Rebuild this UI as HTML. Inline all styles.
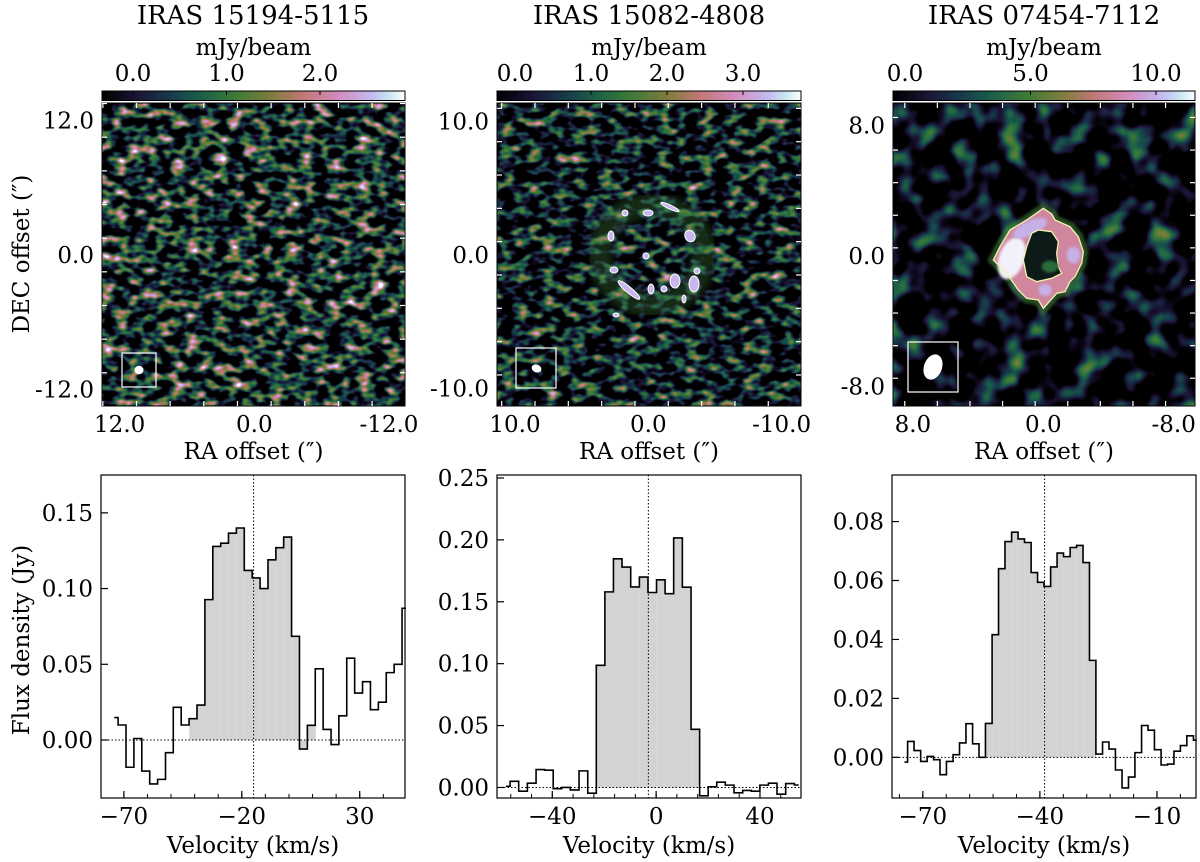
<!DOCTYPE html>
<html><head><meta charset="utf-8">
<style>
html,body{margin:0;padding:0;background:#fff;}
svg{display:block;font-family:"DejaVu Serif","Liberation Serif",serif;}
</style></head>
<body>
<svg id="fig" width="1200" height="862" viewBox="0 0 1200 862" xmlns="http://www.w3.org/2000/svg">
<defs>
<linearGradient id="cmap" x1="0" x2="1" y1="0" y2="0">
<stop offset="0" stop-color="#000000"/>
<stop offset="0.11" stop-color="#1a1334"/>
<stop offset="0.22" stop-color="#17384b"/>
<stop offset="0.33" stop-color="#1b6148"/>
<stop offset="0.44" stop-color="#3e7a37"/>
<stop offset="0.56" stop-color="#7d7d3c"/>
<stop offset="0.67" stop-color="#c37878"/>
<stop offset="0.78" stop-color="#d28cbe"/>
<stop offset="0.89" stop-color="#c3b9f0"/>
<stop offset="0.95" stop-color="#c8e8f2"/>
<stop offset="1" stop-color="#ffffff"/>
</linearGradient>
<filter id="n1" x="0" y="0" width="100%" height="100%" color-interpolation-filters="sRGB">
<feTurbulence type="fractalNoise" baseFrequency="0.07 0.11" numOctaves="2" seed="3"/>
<feColorMatrix type="matrix" values="2.3 0 0 0 -0.95  2.3 0 0 0 -0.95  2.3 0 0 0 -0.95  0 0 0 0 1"/>
<feComponentTransfer>
<feFuncR type="table" tableValues="0 .10 .09 .11 .24 .49 .76 .82 .76 1"/>
<feFuncG type="table" tableValues="0 .07 .22 .38 .48 .49 .47 .55 .73 1"/>
<feFuncB type="table" tableValues="0 .20 .29 .28 .22 .24 .47 .75 .94 1"/>
</feComponentTransfer>
</filter>
<filter id="n2" x="0" y="0" width="100%" height="100%" color-interpolation-filters="sRGB">
<feTurbulence type="fractalNoise" baseFrequency="0.07 0.11" numOctaves="2" seed="8"/>
<feColorMatrix type="matrix" values="2.0 0 0 0 -0.88  2.0 0 0 0 -0.88  2.0 0 0 0 -0.88  0 0 0 0 1"/>
<feComponentTransfer>
<feFuncR type="table" tableValues="0 .10 .09 .11 .24 .49 .76 .82 .76 1"/>
<feFuncG type="table" tableValues="0 .07 .22 .38 .48 .49 .47 .55 .73 1"/>
<feFuncB type="table" tableValues="0 .20 .29 .28 .22 .24 .47 .75 .94 1"/>
</feComponentTransfer>
</filter>
<filter id="n3" x="0" y="0" width="100%" height="100%" color-interpolation-filters="sRGB">
<feTurbulence type="fractalNoise" baseFrequency="0.04" numOctaves="2" seed="5"/>
<feColorMatrix type="matrix" values="1.5 0 0 0 -0.72  1.5 0 0 0 -0.72  1.5 0 0 0 -0.72  0 0 0 0 1"/>
<feComponentTransfer>
<feFuncR type="table" tableValues="0 .10 .09 .11 .24 .49 .76 .82 .76 1"/>
<feFuncG type="table" tableValues="0 .07 .22 .38 .48 .49 .47 .55 .73 1"/>
<feFuncB type="table" tableValues="0 .20 .29 .28 .22 .24 .47 .75 .94 1"/>
</feComponentTransfer>
</filter>
<filter id="blur4"><feGaussianBlur stdDeviation="4"/></filter>
<filter id="blur8"><feGaussianBlur stdDeviation="8"/></filter>
<clipPath id="clip3"><rect x="893" y="103" width="302" height="303"/></clipPath>
<clipPath id="clip2"><rect x="497" y="103" width="304" height="303"/></clipPath>
</defs>

<!-- Titles -->
<text x="253" y="24" font-size="26" text-anchor="middle">IRAS 15194-5115</text>
<text x="649" y="24" font-size="26" text-anchor="middle">IRAS 15082-4808</text>
<text x="1044" y="24" font-size="26" text-anchor="middle">IRAS 07454-7112</text>

<!-- Image panels -->
<g>
<rect x="102" y="103" width="303" height="303" fill="#000" filter="url(#n1)"/>
</g>
<g>
<rect x="497" y="103" width="304" height="303" fill="#000" filter="url(#n2)"/>
<g clip-path="url(#clip2)">
<ellipse cx="652" cy="255" rx="52" ry="50" fill="none" stroke="#3e7a37" stroke-width="24" opacity="0.35" filter="url(#blur4)"/>
<g fill="#c9b6ee" stroke="#fff" stroke-width="1">
<ellipse cx="611" cy="236" rx="3" ry="5"/>
<ellipse cx="625" cy="213" rx="3" ry="3"/>
<ellipse cx="648" cy="213" rx="5" ry="3"/>
<ellipse cx="670" cy="207" rx="10" ry="2" transform="rotate(25 670 207)"/>
<ellipse cx="690" cy="236" rx="5" ry="6" transform="rotate(-30 690 236)"/>
<ellipse cx="614" cy="270" rx="4" ry="3"/>
<ellipse cx="629" cy="290" rx="14" ry="3" transform="rotate(40 629 290)"/>
<ellipse cx="651" cy="289" rx="3" ry="5"/>
<ellipse cx="664" cy="289" rx="3" ry="3"/>
<ellipse cx="675" cy="281" rx="5" ry="7"/>
<ellipse cx="694" cy="284" rx="5" ry="8"/>
<ellipse cx="646" cy="256" rx="3" ry="3"/>
<ellipse cx="697" cy="271" rx="3" ry="3"/>
<ellipse cx="616" cy="315" rx="3" ry="2"/>
<ellipse cx="684" cy="299" rx="2" ry="4"/>
</g>
</g>
</g>
<g>
<rect x="893" y="103" width="302" height="303" fill="#000" filter="url(#n3)"/>
<g clip-path="url(#clip3)">
<g transform="translate(870,60) scale(0.33333)">
<path d="M520,445 L545,462 L555,480 L600,500 L625,530 L640,575 L635,610 L615,650 L600,665 L585,695 L560,700 L520,745 L505,720 L470,715 L445,690 L410,640 L370,600 L390,560 L420,510 L470,480 Z" fill="#3e7a37" stroke="#3e7a37" stroke-width="30" opacity="0.6" filter="url(#blur4)"/>
<path d="M520,445 L545,462 L555,480 L600,500 L625,530 L640,575 L635,610 L615,650 L600,665 L585,695 L560,700 L520,745 L505,720 L470,715 L445,690 L410,640 L370,600 L390,560 L420,510 L470,480 Z" fill="#d0879e"/>
<ellipse cx="425" cy="595" rx="38" ry="65" fill="#f2f0fa" filter="url(#blur4)" transform="rotate(20 425 595)"/>
<ellipse cx="480" cy="505" rx="55" ry="22" fill="#c6b0e8" filter="url(#blur4)" transform="rotate(-25 480 505)"/>
<ellipse cx="610" cy="585" rx="20" ry="25" fill="#c6b0e8" filter="url(#blur4)"/>
<ellipse cx="525" cy="690" rx="20" ry="18" fill="#c6b0e8" filter="url(#blur4)"/>
<path d="M520,445 L545,462 L555,480 L600,500 L625,530 L640,575 L635,610 L615,650 L600,665 L585,695 L560,700 L520,745 L505,720 L470,715 L445,690 L410,640 L370,600 L390,560 L420,510 L470,480 Z" fill="none" stroke="#f4f0b0" stroke-width="4"/>
<path d="M505,510 L545,515 L565,545 L560,580 L565,620 L575,640 L545,655 L500,665 L470,650 L460,600 L470,560 L485,520 Z" fill="#0c1a18" stroke="#f4f0b0" stroke-width="4"/>
<ellipse cx="540" cy="620" rx="25" ry="18" fill="#2a6a3a" filter="url(#blur4)"/>
</g>
</g>
</g>

<!-- Beam boxes -->
<g>
<rect x="122" y="353" width="34" height="34" fill="none" stroke="#fff" stroke-width="1.2"/>
<ellipse cx="139" cy="370" rx="4.5" ry="4.2" fill="#fff"/>
</g>
<g>
<rect x="516" y="348" width="40" height="40" fill="none" stroke="#fff" stroke-width="1.2"/>
<ellipse cx="536.5" cy="368.5" rx="5" ry="3.8" fill="#fff" transform="rotate(20 536.5 368.5)"/>
</g>
<g>
<rect x="908" y="342" width="50" height="50" fill="none" stroke="#fff" stroke-width="1.2"/>
<ellipse cx="933" cy="367" rx="9" ry="13" fill="#fff" transform="rotate(20 933 367)"/>
</g>

<g id="images-axes"></g>
<g id="spectra"></g>
</svg>

<script>
// ---------------- Spectrum data ----------------
const spec1Velocity = [-74.1,-70.8,-67.4,-64.1,-60.7,-57.4,-54.0,-50.7,-47.4,-44.0,-40.7,-37.3,-34.0,-30.6,-27.3,-24.0,-20.6,-17.3,-13.9,-10.6,-7.2,-3.9,-0.6,2.8,6.1,9.5,12.8,16.2,19.5,22.8,26.2,29.5,32.9,36.2,39.6,42.9,46.3,49.6];
const spec1Flux = [0.0148,0.0099,-0.018,0.001,-0.0205,-0.029,-0.026,-0.0084,0.0216,0.0099,0.0141,0.0231,0.0927,0.1278,0.130,0.1366,0.140,0.112,0.107,0.100,0.119,0.127,0.134,0.0685,-0.006,0.0097,0.047,0.007,-0.003,0.016,0.054,0.031,0.0385,0.020,0.025,0.0445,0.050,0.087];
const spec2Velocity = [-57.9,-54.6,-51.3,-47.9,-44.6,-41.3,-38.0,-34.7,-31.4,-28.0,-24.7,-21.4,-18.1,-14.8,-11.5,-8.1,-4.8,-1.5,1.8,5.1,8.4,11.8,15.1,18.4,21.7,25.0,28.3,31.7,35.0,38.3,41.6,44.9,48.2,51.6,54.9];
const spec2Flux = [0.001,0.005,-0.003,0.0035,0.0145,0.014,-0.001,0,-0.002,0.0134,-0.0046,0.0987,0.158,0.1847,0.178,0.162,0.170,0.1575,0.1677,0.1565,0.2016,0.1618,0.047,-0.0067,0.0005,0.0043,0.0019,-0.0043,-0.0024,-0.003,0.0019,0.0035,-0.0054,0.0032,0.002];
const spec3Velocity = [-74.7,-73.1,-71.4,-69.7,-68.1,-66.4,-64.8,-63.1,-61.4,-59.8,-58.1,-56.4,-54.8,-53.1,-51.4,-49.8,-48.1,-46.4,-44.8,-43.1,-41.4,-39.8,-38.1,-36.4,-34.8,-33.1,-31.4,-29.8,-28.1,-26.5,-24.8,-23.1,-21.5,-19.8,-18.1,-16.5,-14.8,-13.1,-11.5,-9.8,-8.1,-6.5,-4.8,-3.2,-1.5,0.2];
const spec3Flux = [-0.0016,0.0054,0.0023,-0.0014,0.0003,-0.0008,-0.0059,-0.0014,0.0009,0.0049,0.0114,0.0046,0.0,0.0115,0.0416,0.064,0.0732,0.0764,0.0741,0.0729,0.0627,0.0594,0.058,0.0646,0.0693,0.0681,0.0712,0.0719,0.0661,0.0329,0.0011,0.0052,0.0028,-0.0043,-0.0104,-0.0067,0.0016,0.0108,0.0092,0.0026,-0.0026,-0.0023,0.0021,0.004,0.0073,0.0058];
const spec1YTicks = [0,0.05,0.10,0.15];
const spec2YTicks = [0,0.05,0.10,0.15,0.20,0.25];
const spec3YTicks = [0,0.02,0.04,0.06,0.08];
const spec1XTicks = [-70,-20,30];
const spec2XTicks = [-40,0,40];
const spec3XTicks = [-70,-40,-10];
const shade1 = [-42.2,11.3];
const shade2 = [-22.9,17.0];
const shade3 = [-54.0,-25.7];
const vsys = [-15.0,-3.0,-38.8];

// Colorbar / map tick labels
const cb1Ticks = ["0.0","1.0","2.0"], cb1Vals=[0,1,2];
const cb2Ticks = ["0.0","1.0","2.0","3.0"], cb2Vals=[0,1,2,3];
const cb3Ticks = ["0.0","5.0","10.0"], cb3Vals=[0,5,10];
const map1Ticks = [12,0,-12], map2Ticks=[10,0,-10], map3Ticks=[8,0,-8];

const FS=23;
const NS='http://www.w3.org/2000/svg';
function mk(tag, attrs, parent){const e=document.createElementNS(NS,tag);for(const k in attrs)e.setAttribute(k,attrs[k]);parent.appendChild(e);return e;}

const spectraG=document.getElementById('spectra');
const imgG=document.getElementById('images-axes');

function drawSpectrum(o){
  const g=mk('g',{},spectraG);
  
  
  const X=v=>o.x0+(v-o.v0)/(o.v1-o.v0)*(o.x1-o.x0);
  const Y=f=>o.y0-(f-o.f0)/(o.f1-o.f0)*(o.y0-o.y1);
  const v=o.vel, f=o.flux, n=v.length;
  for(let i=0;i<n;i++){
    const lo=i>0?(v[i-1]+v[i])/2:v[i], hi=i<n-1?(v[i]+v[i+1])/2:v[i];
    const a=Math.max(lo,o.shade[0]), b=Math.min(hi,o.shade[1]);
    if(b<=a) continue;
    const y0=Y(0), y1=Y(f[i]);
    const r=mk('rect',{x:X(a),y:Math.min(y0,y1),width:X(b)-X(a),height:Math.abs(y1-y0),fill:'#d3d3d3',stroke:'#dadada','stroke-width':0.5},g);
    
    
  }
  const zl=mk('line',{x1:o.x0,x2:o.x1,y1:Y(0),y2:Y(0),stroke:'#000','stroke-width':1,'stroke-dasharray':'1.5,2'},g);
  
  
  const vl=mk('line',{x1:X(o.vsys),x2:X(o.vsys),y1:o.y1,y2:o.y0,stroke:'#000','stroke-width':1,'stroke-dasharray':'1.5,2'},g);
  
  
  let d='M'+X(v[0])+','+Y(f[0]);
  for(let i=0;i<n-1;i++){const m=X((v[i]+v[i+1])/2);d+=' H'+m+' V'+Y(f[i+1]);}
  d+=' H'+X(v[n-1]);
  const p=mk('path',{d:d,fill:'none',stroke:'#000','stroke-width':1.6},g);
  
  
  const fr=mk('rect',{x:o.x0,y:o.y1,width:o.x1-o.x0,height:o.y0-o.y1,fill:'none',stroke:'#000','stroke-width':1.2},g);
  
  
  for(let t=o.minorStart;t<=o.v1;t+=o.minorStep){const x=X(t);if(x<o.x0||x>o.x1)continue;mk('line',{x1:x,x2:x,y1:o.y0,y2:o.y0-4,stroke:'#000','stroke-width':1},g);}
  o.xticks.forEach(t=>{const x=X(t);mk('line',{x1:x,x2:x,y1:o.y0,y2:o.y0-7,stroke:'#000','stroke-width':1.2},g);
    const tx=mk('text',{x:x,y:o.y0+26,'font-size':FS,'text-anchor':'middle'},g);tx.textContent=(t<0?'\u2212'+(-t):''+t);
    
    });
  o.yticks.forEach(t=>{const y=Y(t);mk('line',{x1:o.x0,x2:o.x0+7,y1:y,y2:y,stroke:'#000','stroke-width':1.2},g);
    const tx=mk('text',{x:o.x0-8,y:y+8,'font-size':FS,'text-anchor':'end'},g);tx.textContent=t.toFixed(2);
    
    });
  const xl=mk('text',{x:(o.x0+o.x1)/2,y:853,'font-size':FS,'text-anchor':'middle'},g);xl.textContent='Velocity (km/s)';
  
  
}

drawSpectrum({name:'spectrum-iras-15194',vel:spec1Velocity,flux:spec1Flux,x0:101,x1:405,y0:798,y1:475,v0:-79.7,v1:49.2,f0:-0.0383,f1:0.175,xticks:spec1XTicks,yticks:spec1YTicks,minorStart:-70,minorStep:10,shade:shade1,vsys:vsys[0]});
drawSpectrum({name:'spectrum-iras-15082',vel:spec2Velocity,flux:spec2Flux,x0:497,x1:801,y0:798,y1:475,v0:-61.3,v1:55.8,f0:-0.0085,f1:0.2524,xticks:spec2XTicks,yticks:spec2YTicks,minorStart:-56,minorStep:8,shade:shade2,vsys:vsys[1]});
drawSpectrum({name:'spectrum-iras-07454',vel:spec3Velocity,flux:spec3Flux,x0:892,x1:1196,y0:798,y1:475,v0:-77.9,v1:0.0,f0:-0.0138,f1:0.0958,xticks:spec3XTicks,yticks:spec3YTicks,minorStart:-76,minorStep:6,shade:shade3,vsys:vsys[2]});

const fl=mk('text',{x:0,y:0,'font-size':FS,'text-anchor':'middle',transform:'translate(29,640) rotate(-90)'},spectraG);
fl.textContent='Flux density (Jy)';



function drawMapAxes(o){
  const g=mk('g',{},imgG);
  
  
  const X=a=>o.xc+(-a)*o.s, Y=a=>o.yc-a*o.s;
  const fr=mk('rect',{x:o.x0,y:103,width:o.x1-o.x0,height:303,fill:'none',stroke:'#000','stroke-width':1},g);
  
  
  for(let a=-o.lim;a<=o.lim+0.001;a+=o.step){
    const x=X(a), y=Y(a), big=Math.abs(a%o.major)<0.01;
    const L=big?7:5;
    if(x>o.x0&&x<o.x1){mk('line',{x1:x,x2:x,y1:406,y2:406-L,stroke:'#fff','stroke-width':1.2},g);mk('line',{x1:x,x2:x,y1:103,y2:103+L,stroke:'#fff','stroke-width':1.2},g);}
    if(y>103&&y<406){mk('line',{x1:o.x0,x2:o.x0+L,y1:y,y2:y,stroke:'#fff','stroke-width':1.2},g);mk('line',{x1:o.x1,x2:o.x1-L,y1:y,y2:y,stroke:'#fff','stroke-width':1.2},g);}
  }
  o.ticks.forEach(t=>{
    const tx=mk('text',{x:X(t),y:432,'font-size':FS,'text-anchor':'middle'},g);tx.textContent=t.toFixed(1);
    
    
    const ty=mk('text',{x:o.x0-8,y:Y(t)+8,'font-size':FS,'text-anchor':'end'},g);ty.textContent=t.toFixed(1);
    
    
  });
  const ra=mk('text',{x:(o.x0+o.x1)/2,y:459,'font-size':FS,'text-anchor':'middle'},g);ra.textContent='RA offset (\u2033)';
  
  
  const cb=mk('rect',{x:o.x0,y:91,width:o.x1-o.x0,height:9.5,fill:'url(#cmap)',stroke:'#000','stroke-width':1},g);
  
  
  o.cbVals.forEach((v,i)=>{const x=o.cb0+v*o.cbs;
    mk('line',{x1:x,x2:x,y1:91,y2:95,stroke:'#000','stroke-width':1},g);
    const t=mk('text',{x:x,y:81,'font-size':FS,'text-anchor':'middle'},g);t.textContent=o.cbLabels[i];
    
    });
  const u=mk('text',{x:(o.x0+o.x1)/2,y:55,'font-size':FS,'text-anchor':'middle'},g);u.textContent='mJy/beam';
  
  
}
drawMapAxes({name:'map-axes-1',x0:102,x1:405,xc:254.3,yc:255,s:11.22,lim:13.5,step:3,major:12,ticks:map1Ticks,cbVals:cb1Vals,cbLabels:cb1Ticks,cb0:133,cbs:93.5});
drawMapAxes({name:'map-axes-2',x0:497,x1:801,xc:648.3,yc:255,s:13.33,lim:11.5,step:2.5,major:10,ticks:map2Ticks,cbVals:cb2Vals,cbLabels:cb2Ticks,cb0:515,cbs:76});
drawMapAxes({name:'map-axes-3',x0:893,x1:1195,xc:1043.3,yc:256,s:16.3,lim:9.5,step:2,major:8,ticks:map3Ticks,cbVals:cb3Vals,cbLabels:cb3Ticks,cb0:905,cbs:25.1});

const dec=mk('text',{x:0,y:0,'font-size':FS,'text-anchor':'middle',transform:'translate(29,254) rotate(-90)'},imgG);
dec.textContent='DEC offset (\u2033)';


</script>
</body></html>
